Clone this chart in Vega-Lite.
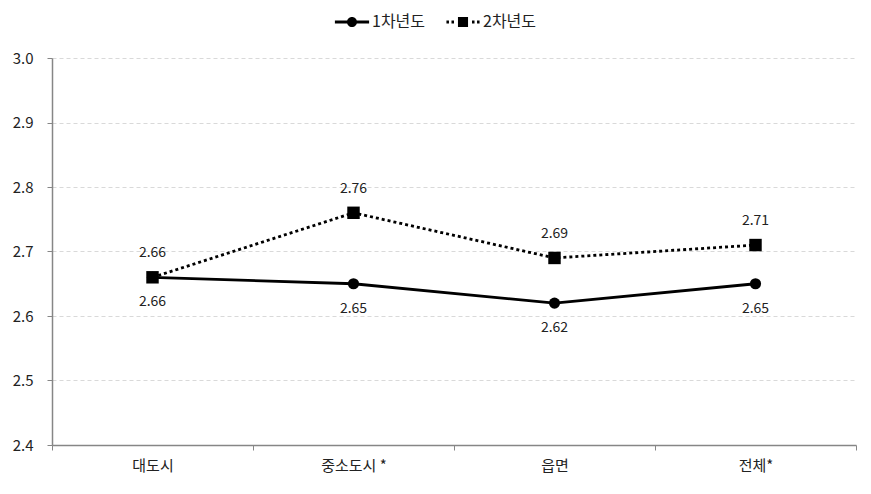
{
  "$schema": "https://vega.github.io/schema/vega-lite/v6.json",
  "autosize": {"type": "none"},
  "width": 804,
  "height": 387,
  "padding": {"left": 52, "top": 58, "right": 15, "bottom": 49},
  "background": "white",
  "config": {
    "font": "Noto Sans CJK KR",
    "view": {"stroke": null},
    "axis": {"labelFont": "Noto Sans CJK KR", "labelFontSize": 15, "labelColor": "#222222", "domainColor": "#868686", "tickColor": "#868686", "title": null}
  },
  "data": {
    "values": [
      {"region": "대도시", "series": "1차년도", "value": 2.66},
      {"region": "중소도시 *", "series": "1차년도", "value": 2.65},
      {"region": "읍면", "series": "1차년도", "value": 2.62},
      {"region": "전체*", "series": "1차년도", "value": 2.65},
      {"region": "대도시", "series": "2차년도", "value": 2.66},
      {"region": "중소도시 *", "series": "2차년도", "value": 2.76},
      {"region": "읍면", "series": "2차년도", "value": 2.69},
      {"region": "전체*", "series": "2차년도", "value": 2.71}
    ]
  },
  "encoding": {
    "x": {
      "field": "region", "type": "nominal", "sort": null,
      "scale": {"paddingInner": 0, "paddingOuter": 0},
      "axis": {"labelAngle": 0, "tickBand": "extent", "tickSize": 5, "labelPadding": 8, "domainWidth": 1.5}
    },
    "y": {
      "field": "value", "type": "quantitative",
      "scale": {"domain": [2.4, 3.0], "nice": false, "zero": false},
      "axis": {"values": [2.4, 2.5, 2.6, 2.7, 2.8, 2.9, 3.0], "format": ".1f", "tickSize": 5, "labelPadding": 14, "domainWidth": 1.5, "grid": true, "gridColor": "#d9d9d9", "gridDash": [4, 3]}
    }
  },
  "layer": [
    {
      "transform": [{"filter": "datum.series === '1차년도'"}],
      "mark": {"type": "line", "color": "black", "strokeWidth": 2.8}
    },
    {
      "transform": [{"filter": "datum.series === '2차년도'"}],
      "mark": {"type": "line", "color": "black", "strokeWidth": 2.8, "strokeDash": [3, 3]}
    },
    {
      "transform": [{"filter": "datum.series === '1차년도'"}],
      "mark": {"type": "point", "shape": "circle", "filled": true, "color": "black", "opacity": 1, "size": 125}
    },
    {
      "transform": [{"filter": "datum.series === '2차년도'"}],
      "mark": {"type": "point", "shape": "square", "filled": true, "color": "black", "opacity": 1, "size": 155}
    },
    {
      "mark": {"type": "point", "filled": true, "color": "black", "size": 0},
      "encoding": {
        "shape": {
          "field": "series", "type": "nominal",
          "scale": {
            "domain": ["1차년도", "2차년도"],
            "range": [
              "M-0.95,-0.08L0.95,-0.08L0.95,0.08L-0.95,0.08Z M-0.28,0 A0.28,0.28 0 1,1 0.28,0 A0.28,0.28 0 1,1 -0.28,0Z",
              "M-0.28,-0.28L0.28,-0.28L0.28,0.28L-0.28,0.28Z M-0.92,-0.08L-0.78,-0.08L-0.78,0.08L-0.92,0.08Z M-0.64,-0.08L-0.5,-0.08L-0.5,0.08L-0.64,0.08Z M0.5,-0.08L0.64,-0.08L0.64,0.08L0.5,0.08Z M0.78,-0.08L0.92,-0.08L0.92,0.08L0.78,0.08Z"
            ]
          },
          "legend": {
            "title": null, "orient": "none", "direction": "horizontal",
            "legendX": 282, "legendY": -54,
            "labelFont": "Noto Sans CJK KR", "labelFontSize": 16, "labelColor": "#222222", "labelOffset": 2,
            "columnPadding": 19, "symbolSize": 1296, "symbolStrokeWidth": 0,
            "symbolFillColor": "black", "symbolOpacity": 1
          }
        }
      }
    },
    {
      "transform": [{"filter": "datum.series === '1차년도'"}],
      "mark": {"type": "text", "dy": 25, "fontSize": 14, "color": "#222222"},
      "encoding": {"text": {"field": "value", "type": "quantitative", "format": ".2f"}}
    },
    {
      "transform": [{"filter": "datum.series === '2차년도'"}],
      "mark": {"type": "text", "dy": -24, "fontSize": 14, "color": "#222222"},
      "encoding": {"text": {"field": "value", "type": "quantitative", "format": ".2f"}}
    }
  ]
}
